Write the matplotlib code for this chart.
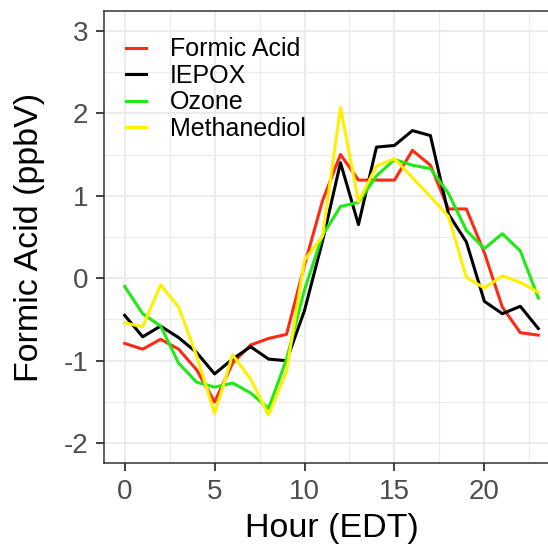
import numpy as np
import matplotlib
matplotlib.use("Agg")
import matplotlib.pyplot as plt
from matplotlib.ticker import MultipleLocator

hours = list(range(24))

formic_acid = [-0.79, -0.86, -0.74, -0.86, -1.11, -1.50, -1.03, -0.81, -0.73, -0.68,
               0.16, 0.94, 1.50, 1.19, 1.19, 1.19, 1.55, 1.37, 0.84, 0.84,
               0.31, -0.35, -0.66, -0.69]
iepox = [-0.45, -0.71, -0.58, -0.72, -0.90, -1.16, -0.98, -0.83, -0.98, -1.00,
         -0.39, 0.45, 1.40, 0.65, 1.59, 1.61, 1.79, 1.73, 0.78, 0.44,
         -0.28, -0.43, -0.34, -0.61]
ozone = [-0.10, -0.43, -0.58, -1.03, -1.26, -1.32, -1.27, -1.39, -1.58, -0.98,
         -0.14, 0.52, 0.87, 0.92, 1.24, 1.44, 1.37, 1.33, 1.03, 0.58,
         0.36, 0.54, 0.33, -0.24]
methanediol = [-0.54, -0.59, -0.08, -0.35, -0.94, -1.64, -0.93, -1.22, -1.66, -1.13,
               0.22, 0.51, 2.07, 0.93, 1.36, 1.45, 1.22, 0.99, 0.75, 0.01,
               -0.12, 0.03, -0.05, -0.17]

series = [("Formic Acid", formic_acid, "#FF2A14"),
          ("IEPOX", iepox, "#000000"),
          ("Ozone", ozone, "#1EEB14"),
          ("Methanediol", methanediol, "#FFF000")]

plt.rcParams['font.family'] = ['Liberation Sans', 'DejaVu Sans']
plt.rcParams['axes.unicode_minus'] = False

fig = plt.figure(figsize=(5.48, 5.48), dpi=100)
# panel runs past the right edge, as in the reference crop
ax = fig.add_axes([104 / 548, 1 - 463 / 548, 455 / 548, 452 / 548])

for name, vals, col in series:
    ax.plot(hours, vals, color=col, lw=2.2, label=name)

ax.set_xlim(-1.15, 24.15)
ax.set_ylim(-2.24, 3.24)
ax.xaxis.set_major_locator(MultipleLocator(5))
ax.xaxis.set_minor_locator(MultipleLocator(2.5))
ax.yaxis.set_major_locator(MultipleLocator(1))
ax.yaxis.set_minor_locator(MultipleLocator(0.5))
ax.grid(which='major', color='#EBEBEB', lw=1.4)
ax.grid(which='minor', color='#EBEBEB', lw=0.8)
ax.set_axisbelow(True)
ax.tick_params(which='minor', length=0)
ax.tick_params(which='major', length=5.5, width=1.3, color='#333333',
               labelcolor='#4D4D4D', labelsize=20, pad=6)
for s in ax.spines.values():
    s.set_color('#333333')
    s.set_linewidth(1.1)

ax.set_xlabel("Hour (EDT)", fontsize=24.5, labelpad=6)
ax.set_ylabel("Formic Acid (ppbV)", fontsize=24.5, labelpad=13)

leg = ax.legend(loc='upper left', bbox_to_anchor=(0.015, 0.975), frameon=False,
                fontsize=18, handlelength=0.8, handletextpad=0.95,
                labelspacing=0.1, borderaxespad=0.2)

fig.savefig("out.png", dpi=100)
